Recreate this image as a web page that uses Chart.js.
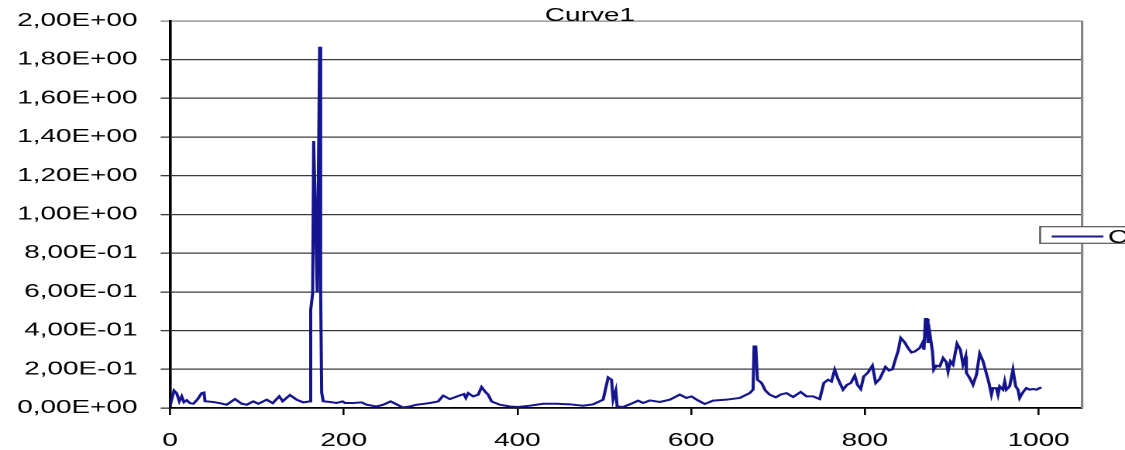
<!DOCTYPE html>
<html>
<head>
<meta charset="utf-8">
<script src="https://cdn.jsdelivr.net/npm/chart.js@4/dist/chart.umd.min.js"></script>
<style>
  html, body { margin: 0; padding: 0; background: #fff; overflow: hidden; }
  /* the original picture is stretched sideways, so draw narrow and scale x */
  #wrap { position: absolute; left: 0; top: 0; width: 726px; height: 450px;
          transform: scaleX(1.5496); transform-origin: 0 0; }
</style>
</head>
<body>
<div id="wrap"><canvas id="curve"></canvas></div>
<script>
var xValues = [
  0, 4.6, 7.7, 10.7, 13.5, 16.1, 19.2, 23.0, 26.8, 31.4,
  36.5, 39.1, 40.3, 49.8, 57.5, 65.2, 74.8, 82.5, 88.3, 95.9,
  101.6, 111.3, 118.2, 125.8, 129.7, 138.1, 145.8, 153.4, 161.1, 162.0,
  164.2, 165.4, 169.5, 172.3, 173.4, 174.6, 176.4, 184.1, 191.8, 198.7,
  201.4, 210.9, 220.6, 226.4, 237.9, 245.5, 254.0, 261.6, 267.8, 276.2,
  283.9, 291.5, 299.2, 308.7, 314.5, 322.2, 333.7, 338.3, 340.6, 343.3,
  349.0, 354.8, 358.7, 362.5, 366.3, 370.2, 379.7, 391.3, 400.8, 414.3,
  429.6, 445.0, 460.3, 475.6, 487.1, 498.6, 504.4, 508.3, 510.1, 513.2,
  514.7, 521.6, 533.1, 538.9, 544.6, 552.4, 563.9, 575.4, 586.9, 594.6,
  600.3, 607.9, 615.6, 625.2, 640.6, 655.9, 667.4, 671.2, 672.4, 674.3,
  676.3, 680.9, 685.4, 690.4, 697.4, 703.1, 709.7, 717.3, 726.1, 732.7,
  740.3, 748.0, 752.6, 757.5, 761.4, 765.2, 769.0, 774.8, 779.4, 783.7,
  788.3, 791.4, 795.2, 798.6, 803.6, 808.6, 812.4, 817.0, 823.6, 827.7,
  831.6, 836.2, 838.1, 841.2, 845.8, 849.6, 853.5, 857.3, 863.1, 866.2,
  868.0, 869.6, 871.5, 872.6, 874.6, 877.7, 879.2, 882.3, 886.1, 890.0,
  893.8, 895.7, 898.4, 901.4, 906.0, 909.9, 912.9, 916.0, 916.8, 920.6,
  924.4, 928.4, 932.1, 936.0, 939.9, 942.8, 945.6, 947.4, 951.3, 953.2,
  955.1, 958.9, 960.9, 962.8, 966.6, 970.4, 973.5, 976.2, 978.1, 981.2,
  985.8, 989.6, 993.4, 997.4, 1003.1
];
var yValues = [
  0.010, 0.090, 0.076, 0.035, 0.060, 0.030, 0.040, 0.025, 0.022, 0.043,
  0.077, 0.080, 0.035, 0.031, 0.025, 0.017, 0.046, 0.022, 0.017, 0.034,
  0.022, 0.043, 0.025, 0.060, 0.035, 0.067, 0.043, 0.029, 0.034, 0.508,
  0.594, 1.380, 0.600, 1.867, 0.600, 0.080, 0.035, 0.031, 0.026, 0.034,
  0.026, 0.026, 0.029, 0.017, 0.008, 0.017, 0.034, 0.017, 0.003, 0.008,
  0.017, 0.021, 0.026, 0.034, 0.064, 0.046, 0.065, 0.072, 0.052, 0.077,
  0.060, 0.069, 0.108, 0.086, 0.069, 0.034, 0.017, 0.008, 0.005, 0.012,
  0.022, 0.022, 0.019, 0.012, 0.019, 0.043, 0.158, 0.146, 0.043, 0.091,
  0.008, 0.005, 0.026, 0.038, 0.026, 0.039, 0.031, 0.043, 0.069, 0.052,
  0.060, 0.039, 0.021, 0.038, 0.043, 0.052, 0.077, 0.095, 0.318, 0.318,
  0.146, 0.130, 0.090, 0.069, 0.055, 0.070, 0.077, 0.057, 0.083, 0.060,
  0.060, 0.046, 0.129, 0.146, 0.137, 0.198, 0.150, 0.095, 0.120, 0.129,
  0.167, 0.120, 0.098, 0.163, 0.184, 0.219, 0.129, 0.150, 0.212, 0.194,
  0.200, 0.267, 0.292, 0.362, 0.339, 0.310, 0.287, 0.292, 0.310, 0.336,
  0.301, 0.460, 0.460, 0.336, 0.388, 0.292, 0.198, 0.219, 0.215, 0.258,
  0.236, 0.189, 0.241, 0.224, 0.332, 0.301, 0.224, 0.267, 0.181, 0.155,
  0.120, 0.172, 0.281, 0.241, 0.177, 0.129, 0.069, 0.103, 0.103, 0.069,
  0.112, 0.095, 0.137, 0.095, 0.112, 0.198, 0.112, 0.095, 0.052, 0.077,
  0.103, 0.095, 0.098, 0.095, 0.107
];
var yTickLabels = ['0,00E+00', '2,00E-01', '4,00E-01', '6,00E-01', '8,00E-01', '1,00E+00',
                   '1,20E+00', '1,40E+00', '1,60E+00', '1,80E+00', '2,00E+00'];
var xTickLabels = ['0', '200', '400', '600', '800', '1000'];
var seriesName = 'Curve1';

var points = [];
for (let idx = 0; idx < xValues.length; idx++) {
    points.push({x: xValues[idx], y: yValues[idx]});
}

// plot border on the right, title over the top edge, cut-off legend box
var excelDecor = {
  id: 'excelDecor',
  afterDraw: function(chart) {
    var ctx = chart.ctx;
    var area = chart.chartArea;
    ctx.save();
    ctx.strokeStyle = '#858585';
    ctx.lineWidth = 1.6;
    ctx.beginPath();
    ctx.moveTo(area.right, area.top);
    ctx.lineTo(area.right, area.bottom);
    ctx.stroke();

    ctx.fillStyle = '#000';
    ctx.font = '18px "Liberation Sans", Arial, sans-serif';
    ctx.textAlign = 'center';
    ctx.textBaseline = 'alphabetic';
    ctx.fillText(seriesName, 380.7, 21);

    // legend
    ctx.fillStyle = '#fff';
    ctx.fillRect(671.2, 226.7, 80, 16.6);
    ctx.strokeStyle = '#555';
    ctx.lineWidth = 1.2;
    ctx.strokeRect(671.2, 226.7, 80, 16.6);
    ctx.strokeStyle = '#1a1a8c';
    ctx.lineWidth = 2;
    ctx.beginPath();
    ctx.moveTo(678.7, 236.5);
    ctx.lineTo(712, 236.5);
    ctx.stroke();
    ctx.fillStyle = '#000';
    ctx.textAlign = 'left';
    ctx.fillText(seriesName, 715, 243);
    ctx.restore();
  }
};

var chart = new Chart(document.getElementById('curve'), {
  type: 'line',
  data: {
    datasets: [{
      label: seriesName,
      data: points,
      borderColor: '#14148c',
      borderWidth: 2,
      pointRadius: 0,
      tension: 0,
      fill: false
    }]
  },
  options: {
    responsive: true,
    maintainAspectRatio: false,
    devicePixelRatio: 2,
    animation: false,
    layout: { padding: { top: 21, right: 27.7, bottom: 0, left: 0 } },
    plugins: {
      legend: { display: false },
      title: { display: false },
      tooltip: { enabled: false }
    },
    scales: {
      x: {
        type: 'linear',
        min: 0,
        max: 1050,
        afterFit: function(scale) { scale.height = 42; },
        afterBuildTicks: function(scale) {
          scale.ticks = scale.ticks.filter(function(t) { return t.value % 200 === 0; });
        },
        ticks: {
          stepSize: 200,
          includeBounds: false,
          maxRotation: 0,
          padding: 15,
          color: '#000',
          font: { family: '"Liberation Sans", Arial, sans-serif', size: 18 },
          callback: function(value) { return xTickLabels[Math.round(value / 200)]; }
        },
        grid: { drawOnChartArea: false, drawTicks: true, tickLength: 7, color: '#000', lineWidth: 1.3 },
        border: { color: '#000', width: 1.6 }
      },
      y: {
        min: 0,
        max: 2,
        afterFit: function(scale) { scale.width = 109.7; },
        ticks: {
          stepSize: 0.2,
          padding: 15,
          color: '#000',
          // small line height keeps the top label from pushing the plot down
          font: { family: '"Liberation Sans", Arial, sans-serif', size: 18, lineHeight: 0.5 },
          callback: function(value) { return yTickLabels[Math.round(value / 0.2)]; }
        },
        grid: {
          tickLength: 6,
          lineWidth: 1.3,
          color: function(c) { return c.tick && c.tick.value >= 2 ? '#858585' : '#3a3a3a'; }
        },
        border: { color: '#000', width: 1.8 }
      }
    }
  },
  plugins: [excelDecor]
});
</script>
</body>
</html>
